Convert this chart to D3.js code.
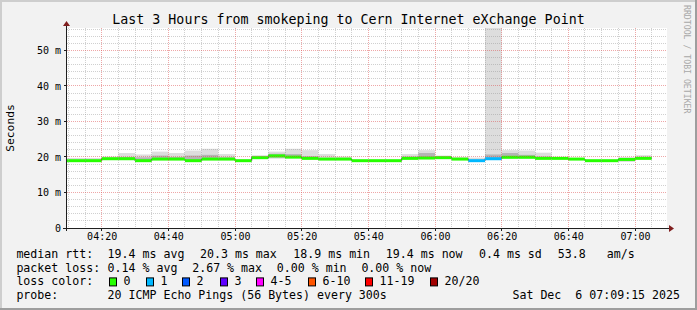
<!DOCTYPE html>
<html lang="en">
<head>
<meta charset="utf-8">
<title>Last 3 Hours from smokeping to Cern Internet eXchange Point</title>
<script src="https://cdn.jsdelivr.net/npm/d3@7"></script>
<style>
body { margin: 0; background: #f2f2f2; }
svg text { font-family: "DejaVu Sans Mono", monospace; }
</style>
</head>
<body>
<div id="chart"></div>
<script>
// 5 minute bins (start time of each bin), values in ms
var binStart = ["04:05","04:10","04:15","04:20","04:25","04:30","04:35","04:40","04:45","04:50","04:55",
  "05:00","05:05","05:10","05:15","05:20","05:25","05:30","05:35","05:40","05:45","05:50","05:55",
  "06:00","06:05","06:10","06:15","06:20","06:25","06:30","06:35","06:40","06:45","06:50","06:55","07:00"];
var medianMs = [18.95,18.95,18.95,19.5,19.5,18.95,19.4,19.4,18.95,19.4,19.4,
  18.95,19.8,20.3,19.95,19.6,19.4,19.4,18.95,18.95,18.95,19.6,19.7,
  19.8,19.4,18.95,19.5,19.9,19.9,19.6,19.6,19.4,18.95,18.95,19.3,19.6];
var lossCount = [0,0,0,0,0,0,0,0,0,0,0,
  0,0,0,0,0,0,0,0,0,0,0,0,
  0,0,1,1,0,0,0,0,0,0,0,0,0];
var smokeMin = [18.8,18.8,18.8,19.3,19.2,18.8,19.2,19.2,18.8,19.2,19.2,
  18.8,19.6,19.5,19.7,19.4,19.2,19.2,18.8,18.8,18.8,19.4,19.5,
  19.6,19.2,18.6,19.2,19.6,19.7,19.4,19.4,19.2,18.8,18.8,18.6,19.4];
var smokeMax = [19.7,19.7,19.7,20.1,21.1,20.7,21.5,21.1,21.8,22.3,20.8,
  19.3,20.5,21.5,22.3,21.9,20.8,20.1,19.1,19.1,19.1,20.8,21.9,
  20.4,19.95,19.8,60,21.9,21.8,21.2,19.95,19.6,19.1,19.1,19.95,20.5];
var smokeLo = [18.9,18.9,18.9,19.4,19.4,18.9,19.3,19.3,18.9,19.3,19.3,
  18.9,19.7,19.8,19.8,19.5,19.3,19.3,18.9,18.9,18.9,19.5,19.6,
  19.7,19.3,18.8,19.3,19.7,19.8,19.5,19.5,19.3,18.9,18.9,19.0,19.5];
var smokeHi = [19.1,19.1,19.2,19.8,20.0,19.9,20.4,20.0,20.4,20.6,19.9,
  19.1,20.0,20.9,20.8,20.2,19.7,19.6,19.0,19.0,19.0,20.1,21.1,
  20.0,19.6,19.2,20.7,21.1,20.6,20.1,19.8,19.5,19.0,19.0,19.6,19.9];

var lossLabels = ["0","1","2","3","4-5","6-10","11-19","20/20"];
var lossLevels = [0,1,2,3,5,10,19,20];
var lossColors = ["#26ff00","#00b8ff","#0059ff","#5e00ff","#ff00ff","#ff5500","#ff0000","#a10000"];

var viewStart = "04:09:36", viewEnd = "07:09:36";

var legendRtt = [["19.4 ms avg",107.6],["20.3 ms max",200],["18.9 ms min",293.3],["19.4 ms now",385.8],["0.4 ms sd",479],["53.8",557.8],["am/s",606.7]];
var legendLoss = [["0.14 % avg",107.6],["2.67 % max",192.2],["0.00 % min",276.8],["0.00 % now",361.4]];
var lossBoxX = [109,146,182,220,256,308,365,430];

var W = 697, H = 310;
var margin = {left: 67, top: 28, right: 30, bottom: 82};

var svg = d3.select("#chart").append("svg")
  .attr("width", W).attr("height", H);

// background + rrdtool shade frame
svg.append("rect").attr("width", W).attr("height", H).attr("fill", "#f2f2f2");
svg.append("rect").attr("x", 0).attr("y", 0).attr("width", W).attr("height", 2).attr("fill", "#cecece");
svg.append("rect").attr("x", 0).attr("y", 0).attr("width", 2).attr("height", H).attr("fill", "#cecece");
svg.append("rect").attr("x", 0).attr("y", H - 2).attr("width", W).attr("height", 2).attr("fill", "#9e9e9e");
svg.append("rect").attr("x", W - 2).attr("y", 0).attr("width", 2).attr("height", H).attr("fill", "#9e9e9e");

var parseT = d3.utcParse("%H:%M:%S");
var parseB = d3.utcParse("%H:%M");

var x = d3.scaleUtc()
  .domain([parseT(viewStart), parseT(viewEnd)])
  .range([margin.left, W - margin.right]);
var y = d3.scaleLinear()
  .domain([0, 0.0563])
  .range([H - margin.bottom, margin.top]);

var x0 = x.range()[0], x1 = x.range()[1], y0 = y.range()[0], y1 = y.range()[1];

svg.append("defs").append("clipPath").attr("id", "plot")
  .append("rect").attr("x", x0).attr("y", y1).attr("width", x1 - x0).attr("height", y0 - y1);

svg.append("rect").attr("x", x0).attr("y", y1).attr("width", x1 - x0).attr("height", y0 - y1)
  .attr("fill", "#ffffff");

var bins = binStart.map(function(s, i) {
  var t = parseB(s);
  return {t0: t, t1: d3.utcMinute.offset(t, 5), med: medianMs[i] / 1000, loss: lossCount[i],
    min: smokeMin[i] / 1000, max: smokeMax[i] / 1000, lo: smokeLo[i] / 1000, hi: smokeHi[i] / 1000};
});

var g = svg.append("g").attr("clip-path", "url(#plot)");

// smoke
g.selectAll("rect.outer").data(bins).enter().append("rect")
  .attr("x", function(d) { return x(d.t0); })
  .attr("width", function(d) { return x(d.t1) - x(d.t0); })
  .attr("y", function(d) { return y(d.max); })
  .attr("height", function(d) { return y(d.min) - y(d.max); })
  .attr("fill", "#dddddd");
g.selectAll("rect.inner").data(bins).enter().append("rect")
  .attr("x", function(d) { return x(d.t0); })
  .attr("width", function(d) { return x(d.t1) - x(d.t0); })
  .attr("y", function(d) { return y(d.hi); })
  .attr("height", function(d) { return y(d.lo) - y(d.hi); })
  .attr("fill", "#b4b4b4");

// grid (dotted, minor grey every 2 m / 5 min, major red every 10 m / 20 min)
var grid = svg.append("g");
var yMajor = y.ticks(6);
var yMinor = y.ticks(30).filter(function(v) {
  return v > 0 && yMajor.every(function(m) { return Math.abs(m - v) > 1e-9; });
});
var xMajor = x.ticks(d3.utcMinute.every(20));
var xMinor = x.ticks(d3.utcMinute.every(5)).filter(function(t) { return t.getUTCMinutes() % 20 !== 0; });

function px(v) { return Math.floor(v) + 0.5; }
var minorCol = "rgba(143,143,143,0.42)", majorCol = "rgba(222,79,79,0.5)";

grid.selectAll("line.ym").data(yMinor).enter().append("line")
  .attr("x1", x0).attr("x2", x1)
  .attr("y1", function(d) { return px(y(d)); }).attr("y2", function(d) { return px(y(d)); })
  .attr("stroke", minorCol).attr("stroke-dasharray", "1,1");
grid.selectAll("line.xm").data(xMinor).enter().append("line")
  .attr("y1", y1).attr("y2", y0)
  .attr("x1", function(d) { return px(x(d)); }).attr("x2", function(d) { return px(x(d)); })
  .attr("stroke", minorCol).attr("stroke-dasharray", "1,1");
grid.selectAll("line.yM").data(yMajor.filter(function(v) { return v > 0; })).enter().append("line")
  .attr("x1", x0).attr("x2", x1)
  .attr("y1", function(d) { return px(y(d)); }).attr("y2", function(d) { return px(y(d)); })
  .attr("stroke", majorCol).attr("stroke-dasharray", "1,1");
grid.selectAll("line.xM").data(xMajor).enter().append("line")
  .attr("y1", y1).attr("y2", y0)
  .attr("x1", function(d) { return px(x(d)); }).attr("x2", function(d) { return px(x(d)); })
  .attr("stroke", majorCol).attr("stroke-dasharray", "1,1");

// median: dark step line, then loss coloured segments
var medPts = bins.map(function(d) { return [d.t0, d.med]; });
medPts.push([bins[bins.length - 1].t1, bins[bins.length - 1].med]);
g.append("path").datum(medPts)
  .attr("d", d3.line().curve(d3.curveStepAfter)
    .x(function(d) { return x(d[0]); })
    .y(function(d) { return y(d[1]); }))
  .attr("fill", "none").attr("stroke", "#202020").attr("stroke-width", 1);

function lossColor(n) {
  for (var i = 0; i < lossLevels.length; i++) if (n <= lossLevels[i]) return lossColors[i];
  return lossColors[lossColors.length - 1];
}
g.selectAll("line.med").data(bins).enter().append("line")
  .attr("x1", function(d) { return x(d.t0); })
  .attr("x2", function(d) { return x(d.t1); })
  .attr("y1", function(d) { return y(d.med); })
  .attr("y2", function(d) { return y(d.med); })
  .attr("stroke", function(d) { return lossColor(d.loss); })
  .attr("stroke-width", 3);

// axes
var yAxis = svg.append("g").attr("transform", "translate(" + (x0 - 6) + ",0)")
  .call(d3.axisLeft(y).tickValues(yMajor).tickSize(0).tickPadding(0)
    .tickFormat(function(v) { return v === 0 ? "0" : d3.format(".0f")(v * 1000) + " m"; }));
yAxis.select(".domain").remove();
yAxis.selectAll("text").attr("font-size", "10px").attr("fill", "#000")
  .attr("font-family", "DejaVu Sans Mono, monospace");

var xAxis = svg.append("g").attr("transform", "translate(0," + (y0 + 5) + ")")
  .call(d3.axisBottom(x).tickValues(xMajor).tickSize(0).tickPadding(0)
    .tickFormat(d3.utcFormat("%H:%M")));
xAxis.select(".domain").remove();
xAxis.selectAll("text").attr("font-size", "10px").attr("fill", "#000")
  .attr("font-family", "DejaVu Sans Mono, monospace");

// axis lines, tick marks, arrows
svg.selectAll("line.ytk").data(yMajor).enter().append("line")
  .attr("x1", x0 - 3).attr("x2", x0)
  .attr("y1", function(d) { return px(y(d)); }).attr("y2", function(d) { return px(y(d)); })
  .attr("stroke", "#1f1f1f");
svg.selectAll("line.xtk").data(xMajor).enter().append("line")
  .attr("y1", y0).attr("y2", y0 + 3)
  .attr("x1", function(d) { return px(x(d)); }).attr("x2", function(d) { return px(x(d)); })
  .attr("stroke", "#1f1f1f");
svg.append("line").attr("x1", px(x0) - 1).attr("x2", px(x0) - 1).attr("y1", y0 + 3).attr("y2", y1 - 3)
  .attr("stroke", "#1f1f1f");
svg.append("line").attr("x1", x0 - 4).attr("x2", x1 + 4).attr("y1", px(y0)).attr("y2", px(y0))
  .attr("stroke", "#1f1f1f");
svg.append("path").attr("d", "M" + (x0 - 0.5) + "," + (y1 - 7) + "l3.5,5h-7z").attr("fill", "#801f1f");
svg.append("path").attr("d", "M" + (x1 + 7) + "," + (y0 + 0.5) + "l-5,-3.5v7z").attr("fill", "#801f1f");

// title and labels
svg.append("text").attr("x", W / 2).attr("y", 24).attr("text-anchor", "middle")
  .attr("font-size", "13.3px").text("Last 3 Hours from smokeping to Cern Internet eXchange Point");
svg.append("text").attr("transform", "translate(14," + ((y0 + y1) / 2) + ") rotate(-90)")
  .attr("text-anchor", "middle").attr("font-size", "11.3px").text("Seconds");
svg.append("text").attr("transform", "translate(684,5) rotate(90)")
  .attr("font-size", "8.2px").attr("fill", "#a8a8a8").text("RRDTOOL / TOBI OETIKER");

// legend
var fs = "11.6px";
var rows = [258, 271.7, 285.4, 299];
function txt(s, xx, yy) {
  return svg.append("text").attr("x", xx).attr("y", yy).attr("font-size", fs)
    .attr("xml:space", "preserve").style("white-space", "pre").text(s);
}
txt("median rtt:", 16.4, rows[0]);
legendRtt.forEach(function(d) { txt(d[0], d[1], rows[0]); });
txt("packet loss:", 16.4, rows[1]);
legendLoss.forEach(function(d) { txt(d[0], d[1], rows[1]); });
txt("loss color:", 16.4, rows[2]);
lossLabels.forEach(function(l, i) {
  svg.append("rect").attr("x", lossBoxX[i] + 0.5).attr("y", rows[2] - 7.5).attr("width", 7).attr("height", 8)
    .attr("fill", lossColors[i]).attr("stroke", "#000").attr("stroke-width", 1);
  txt(l, lossBoxX[i] + 14.5, rows[2]);
});
txt("probe:", 16.4, rows[3]);
txt("20 ICMP Echo Pings (56 Bytes) every 300s", 107.6, rows[3]);
txt("Sat Dec  6 07:09:15 2025", 680, rows[3]).attr("text-anchor", "end");
</script>
</body>
</html>
